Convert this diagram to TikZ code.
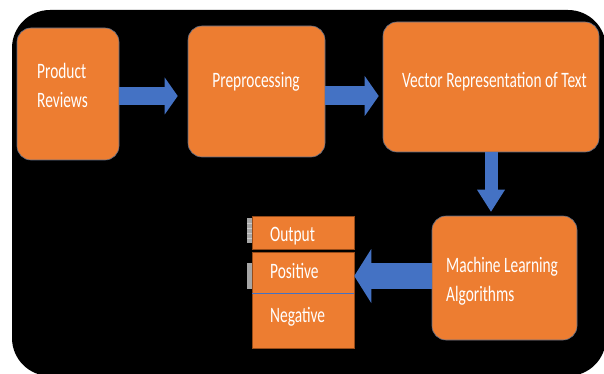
\documentclass[tikz,border=0pt]{standalone}
\usepackage{fontspec}
\usetikzlibrary{arrows.meta}
\newfontfamily\boxfont[FakeStretch=0.7]{Carlito}
\definecolor{boxorange}{HTML}{ED7D31}
\definecolor{flowblue}{HTML}{4472C4}
\definecolor{boxedge}{RGB}{95,110,135}
\definecolor{celledge}{RGB}{150,75,25}
\tikzset{
  stage/.style={draw=boxedge, line width=0.6pt, fill=boxorange, rounded corners=14pt, inner sep=0pt},
  cell/.style={draw=celledge, line width=0.5pt, fill=boxorange, inner sep=0pt, minimum width=102pt},
  lbl/.style={font=\boxfont\fontsize{22}{29}\selectfont, text=white, inner sep=0pt, align=left},
  flow/.style n args={3}{draw=flowblue, line width=#1, -{Triangle[length=#3, width=#2, line width=0pt]}},
}
\begin{document}
\begin{tikzpicture}[x=1pt,y=-1pt]
\useasboundingbox (0,0) rectangle (604,374);
\clip (0,0) rectangle (604,374);
% panel
\fill[white] (0,0) rectangle (604,374);
\fill[black, rounded corners=38pt] (12,10) rectangle (606,376);

% stages
\node[stage, minimum width=102pt, minimum height=132pt] (rev) at (68,94) {};
\node[stage, minimum width=137pt, minimum height=131pt] (prep) at (256.5,91.5) {};
\node[stage, minimum width=216pt, minimum height=130pt] (vec) at (491,87) {};
\node[stage, minimum width=145pt, minimum height=124pt] (ml) at (504.5,278) {};

% result table
\node[cell, minimum height=33pt] (outp) at (303,232.5) {};
\node[cell, minimum height=41pt] (posv) at (303,272.5) {};
\node[cell, minimum height=55pt] (negv) at (303,320.5) {};
\draw[flowblue, line width=0.6pt] (posv.south west) -- (posv.south east);
% grey tabs on the left
\fill[gray!70] (247,218) rectangle (252,243);
\fill[gray!70] (247,263) rectangle (252,289);
\foreach \y in {223,228,233,238}
  \draw[gray!40, line width=0.5pt] (247,\y) -- (252,\y);

% texts (base = last line)
\node[lbl, anchor=base west] (rev-t) at (37,108) {Product\\Reviews};
\node[lbl, anchor=base] (prep-t) at (256,88) {Preprocessing};
\node[lbl, anchor=base] (vec-t) at (494.5,88) {Vector Representation of Text};
\node[lbl, anchor=base west] (ml-t) at (446,301) {Machine Learning\\Algorithms};
\node[lbl, anchor=base west] (outp-t) at (270,241) {Output};
\node[lbl, anchor=base west] (posv-t) at (270,278) {Positive};
\node[lbl, anchor=base west] (negv-t) at (270,322) {Negative};

% arrows
\draw[flow={18pt}{37pt}{13pt}, shorten >=10pt] ([yshift=-2pt]rev.east) -- ([yshift=-2pt]rev.east -| prep.west);
\draw[flow={19pt}{40pt}{14pt}, shorten >=4pt] ([yshift=-4.5pt]prep.east) -- ([yshift=-4.5pt]prep.east -| vec.west);
\draw[flow={13pt}{28pt}{22pt}, shorten >=4pt] (vec.south) -- (vec.south |- ml.north);
\draw[flow={26pt}{54pt}{17pt}] ([yshift=2pt]ml.west) -- ([yshift=2pt]ml.west -| posv.east);
\end{tikzpicture}
\end{document}
